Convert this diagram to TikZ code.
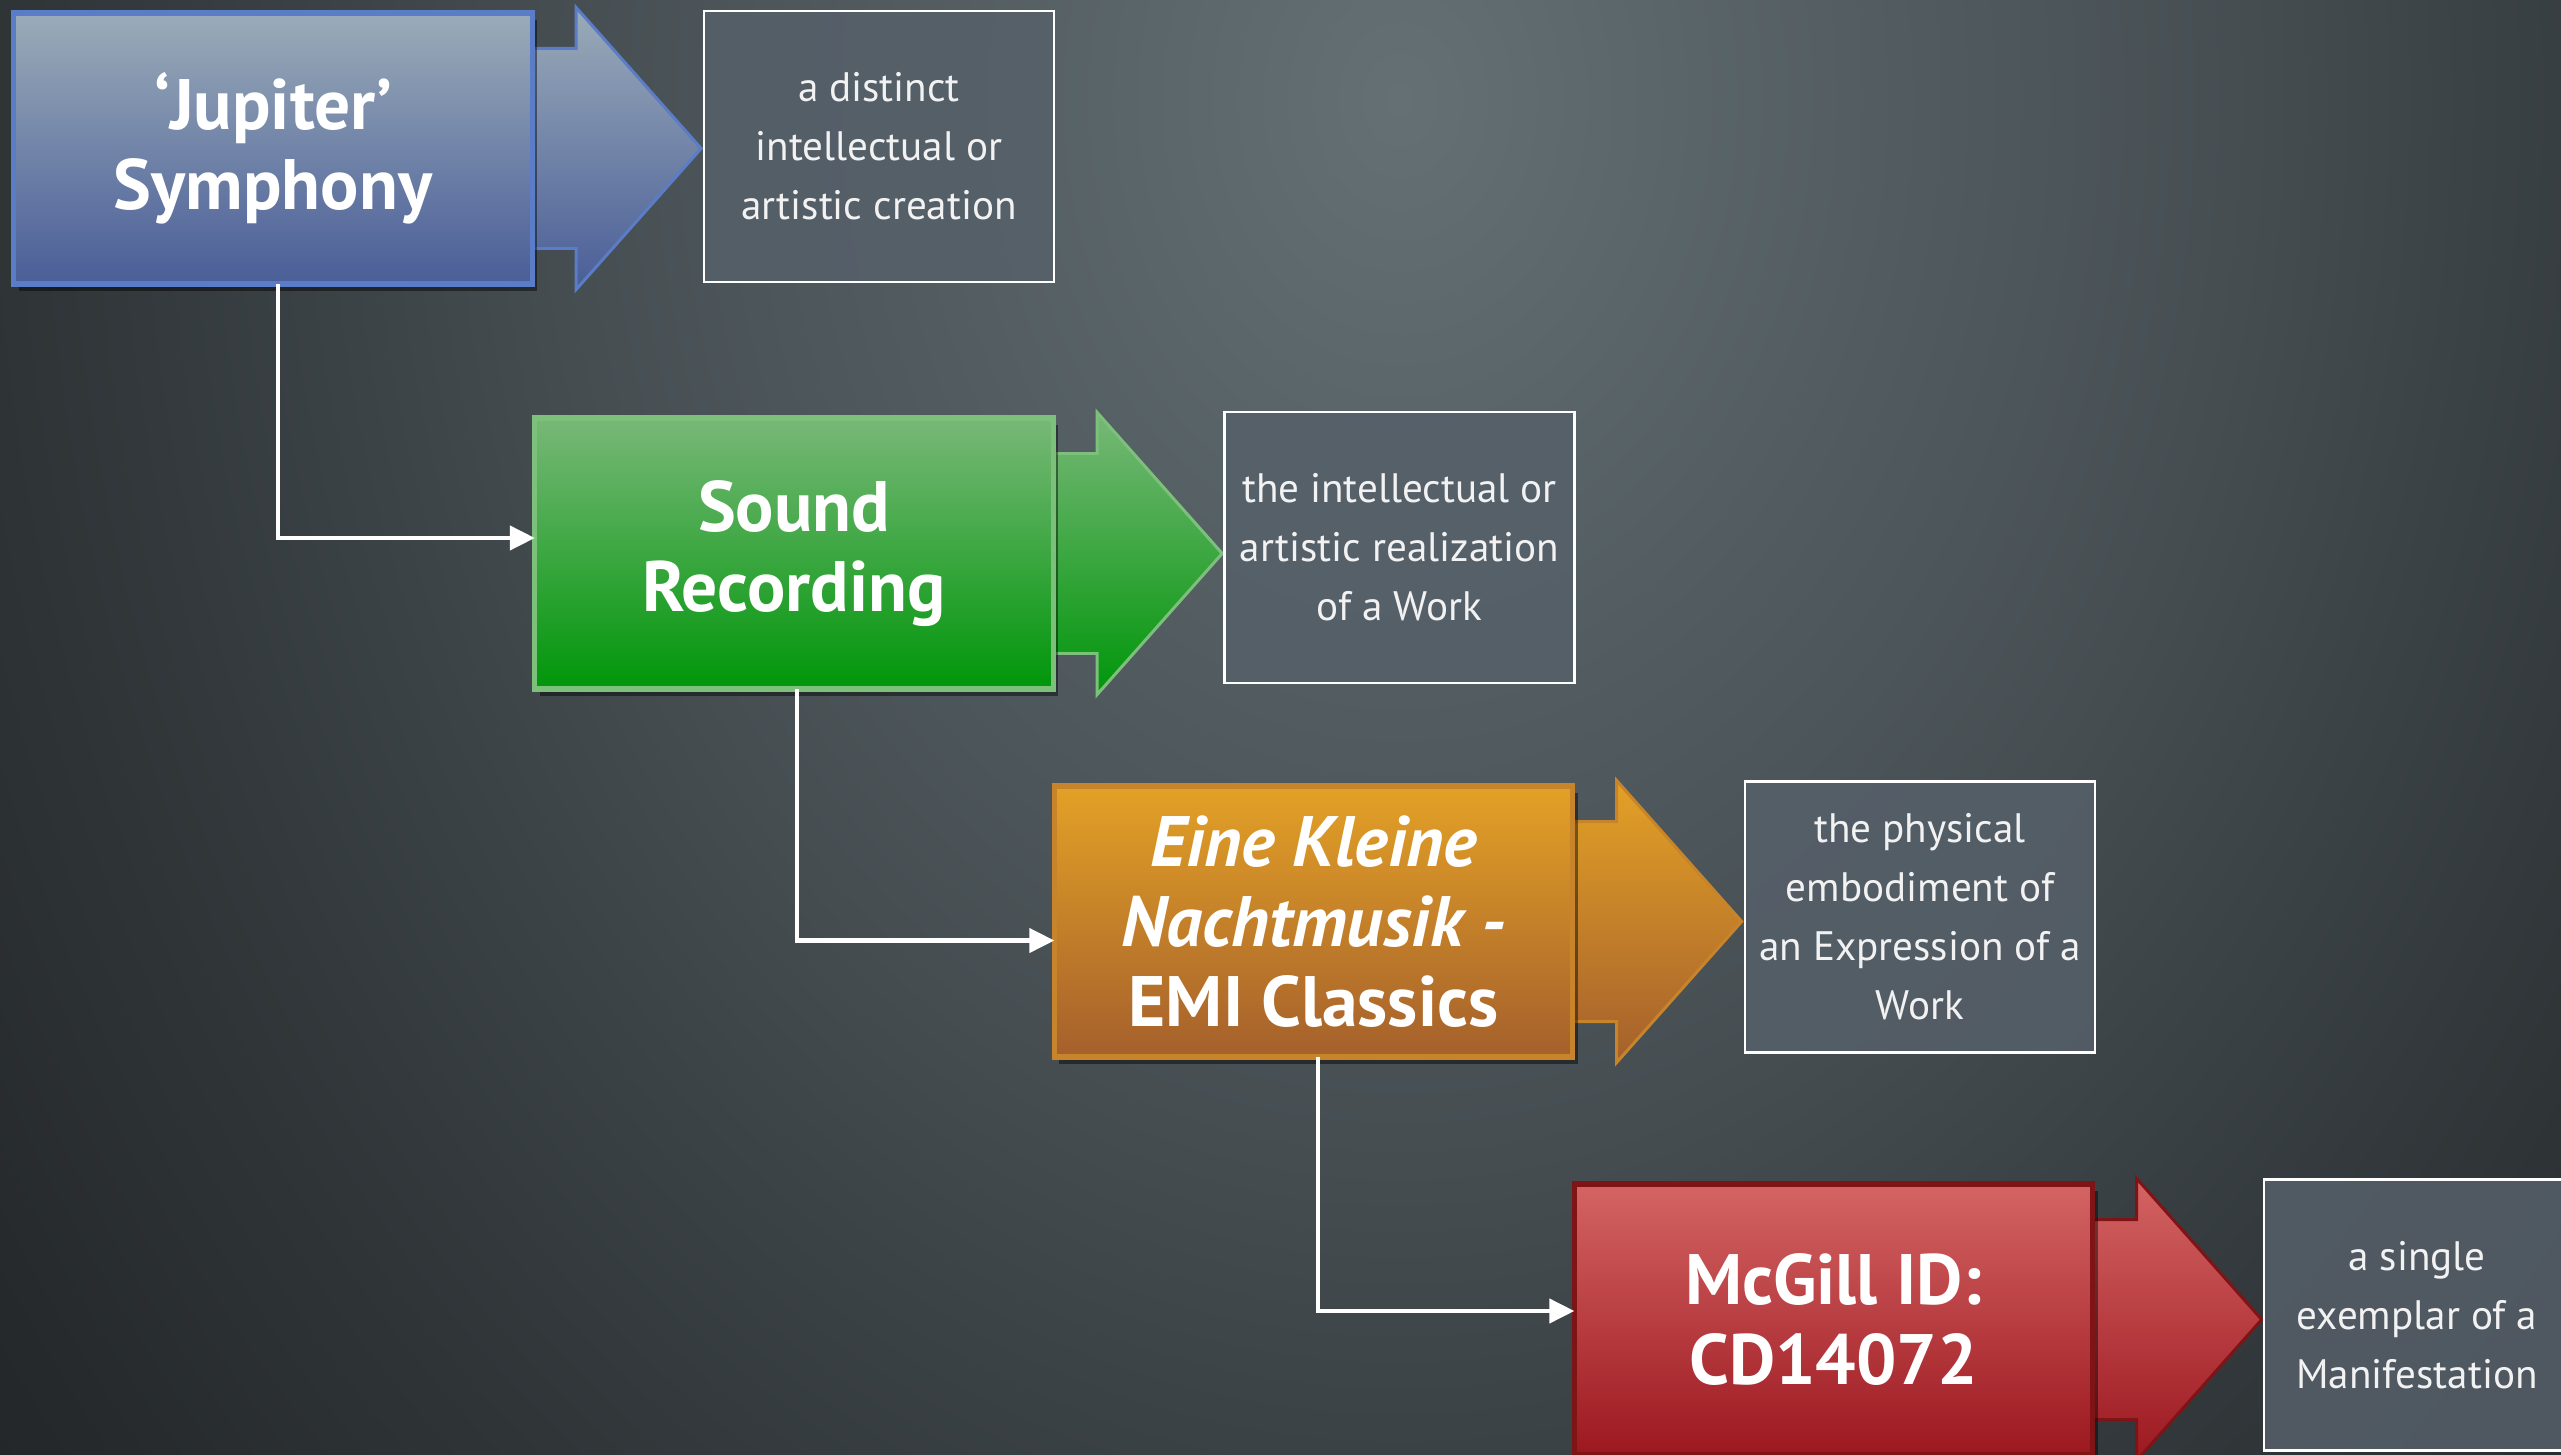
\documentclass[tikz,border=0pt]{standalone}
\usepackage{fontspec}
\setmainfont{PT Sans}
\usetikzlibrary{arrows.meta,calc,shadows}

\definecolor{bgA}{HTML}{647074}
\definecolor{bgB}{HTML}{525C60}
\definecolor{bgC}{HTML}{454D51}
\definecolor{bgD}{HTML}{33393C}
\definecolor{bgE}{HTML}{25292B}
\definecolor{bgF}{HTML}{1C1F21}
\pgfdeclareradialshading{bgshade}{\pgfpoint{0bp}{0bp}}{color(0bp)=(bgA); color(4.8bp)=(bgB); color(8.2bp)=(bgC); color(12.2bp)=(bgD); color(16.3bp)=(bgE); color(20.4bp)=(bgF); color(50bp)=(bgF)}

\definecolor{blueTop}{HTML}{9AABB8}
\definecolor{blueBot}{HTML}{4A5E98}
\definecolor{blueEdge}{HTML}{5B7CC6}
\definecolor{greenTop}{HTML}{78B878}
\definecolor{greenBot}{HTML}{00960A}
\definecolor{greenEdge}{HTML}{7CC07C}
\definecolor{orangeTop}{HTML}{E3A126}
\definecolor{orangeBot}{HTML}{A5602C}
\definecolor{orangeEdge}{HTML}{C7842A}
\definecolor{redTop}{HTML}{D46464}
\definecolor{redBot}{HTML}{9C1820}
\definecolor{redEdge}{HTML}{7E1416}
\definecolor{descFill}{HTML}{56606A}
\definecolor{descText}{HTML}{F2F2F2}

\pgfdeclarelayer{bglayer}
\pgfdeclarelayer{arrlayer}
\pgfsetlayers{bglayer,arrlayer,main}

\newcommand{\blockarrow}[2]{%
  \path[#2] ($(#1.east)+(-10,-100)$) -- ($(#1.east)+(44,-100)$) -- ($(#1.east)+(44,-141)$)
    -- ($(#1.east)+(169,0)$) -- ($(#1.east)+(44,141)$) -- ($(#1.east)+(44,100)$)
    -- ($(#1.east)+(-10,100)$) -- cycle;}

\begin{document}
\begin{tikzpicture}[x=0.01cm,y=-0.01cm,
  mbox/.style={minimum width=5.18cm, minimum height=2.71cm, inner sep=0pt, outer sep=0pt,
    line width=1.5pt, text=white, align=center,
    font=\fontsize{20.3}{22.8}\selectfont\bfseries,
    drop shadow={shadow xshift=0.05cm, shadow yshift=-0.07cm, opacity=0.45, fill=black}},
  dbox/.style={minimum width=3.5cm, minimum height=2.71cm, inner sep=0pt, outer sep=0pt,
    fill=descFill, fill opacity=0.85, text opacity=1, draw=white, draw opacity=1, line width=0.7pt,
    text=descText, align=center, font=\fontsize{11.7}{16.8}\selectfont},
  barrow/.style={line width=0.85pt},
  conn/.style={draw=white, line width=1.2pt, -{Triangle[length=0.25cm,width=0.24cm]}}
]
\useasboundingbox (0,0) rectangle (2561,1455);
\clip (0,0) rectangle (2561,1455);

\begin{pgfonlayer}{bglayer}
  \fill[bgF] (0,0) rectangle (2561,1455);
  \shade[shading=bgshade] (1400,100) ellipse [x radius=26cm, y radius=32.5cm];
\end{pgfonlayer}

% main boxes
\node[mbox, top color=blueTop, bottom color=blueBot, draw=blueEdge] (work) at (273,148.5) {‘Jupiter’\\Symphony};
\node[mbox, top color=greenTop, bottom color=greenBot, draw=greenEdge] (expr) at (794,553.5) {Sound\\Recording};
\node[mbox, top color=orangeTop, bottom color=orangeBot, draw=orangeEdge] (mani) at (1313.5,921.5) {\itshape Eine Kleine\\\itshape Nachtmusik -\\EMI Classics};
\node[mbox, top color=redTop, bottom color=redBot, draw=redEdge] (item) at (1833.5,1319.5) {McGill ID:\\CD14072};

% block arrows
\begin{pgfonlayer}{arrlayer}
  \blockarrow{work}{barrow, top color=blueTop, bottom color=blueBot, draw=blueEdge}
  \blockarrow{expr}{barrow, top color=greenTop, bottom color=greenBot, draw=greenEdge}
  \blockarrow{mani}{barrow, top color=orangeTop, bottom color=orangeBot, draw=orangeEdge}
  \blockarrow{item}{barrow, top color=redTop, bottom color=redBot, draw=redEdge}
\end{pgfonlayer}

% description boxes
\node[dbox] (dwork) at (879,146.5) {a distinct\\intellectual or\\artistic creation};
\node[dbox] (dexpr) at (1399.5,547.5) {the intellectual or\\artistic realization\\of a Work};
\node[dbox] (dmani) at (1920,917) {the physical\\embodiment of\\an Expression of a\\Work};
\node[dbox, minimum width=3.06cm] (ditem) at (2417,1315) {a single\\exemplar of a\\Manifestation};

% connectors
\draw[conn] ([xshift=0.05cm]work.south) |- ([yshift=0.155cm]expr.west);
\draw[conn] ([xshift=0.03cm]expr.south) |- ([yshift=-0.19cm]mani.west);
\draw[conn] ([xshift=0.045cm]mani.south) |- ([yshift=0.085cm]item.west);
\end{tikzpicture}
\end{document}
